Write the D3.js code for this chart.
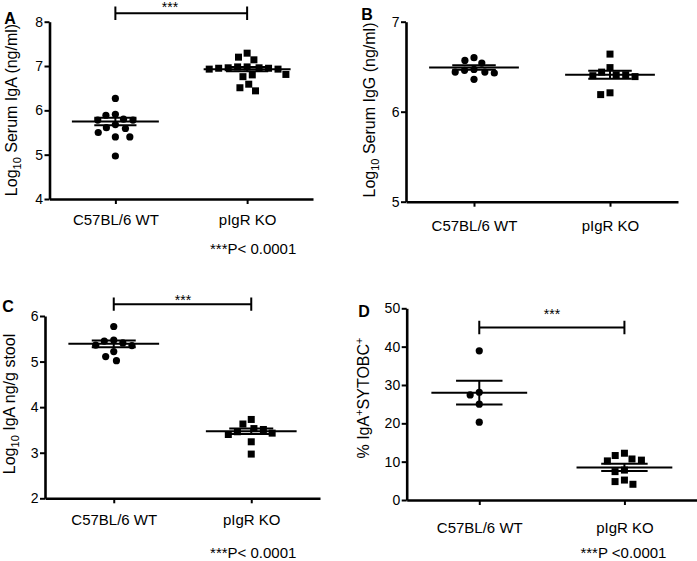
<!DOCTYPE html>
<html>
<head>
<meta charset="utf-8">
<script src="https://cdn.jsdelivr.net/npm/d3@7"></script>
<style>
  body { margin: 0; background: #fff; }
  svg { display: block; font-family: "Liberation Sans", Arial, sans-serif; }
  .axis path, .axis line { stroke: #000; }
  .axis path { stroke-width: 2.6; }
  .axis line { stroke-width: 2; }
  .axis text { fill: #000; }
</style>
</head>
<body>
<svg id="chart" width="697" height="561"></svg>
<script>
const categories = ["C57BL/6 WT", "pIgR KO"];

// A: serum IgA (log10 ng/ml)
const serumIgAWT = [6.27, 5.89, 5.91, 5.78, 5.68, 5.78, 5.80, 5.59, 5.61, 5.40, 5.40, 5.50, 4.97];
const serumIgAKO = [7.29, 7.14, 7.20, 6.95, 6.93, 6.98, 6.96, 6.96, 6.98, 6.93, 6.95, 6.80, 6.76, 6.81, 6.59, 6.51, 6.44];
const serumIgAMean = [5.75, 6.93];
const serumIgASem = [0.085, 0.05];
const serumIgATicks = [4, 5, 6, 7, 8];

// B: serum IgG (log10 ng/ml)
const serumIgGWT = [6.46, 6.44, 6.57, 6.36, 6.54, 6.43, 6.60, 6.44, 6.47];
const serumIgGKO = [6.64, 6.49, 6.41, 6.40, 6.39, 6.41, 6.44, 6.19, 6.21];
const serumIgGMean = [6.49, 6.41];
const serumIgGSem = [0.025, 0.045];
const serumIgGTicks = [5, 6, 7];

// C: stool IgA (log10 ng/g)
const stoolIgAWT = [5.77, 5.45, 5.47, 5.36, 5.35, 5.41, 5.22, 5.02, 5.11];
const stoolIgAKO = [3.63, 3.51, 3.53, 3.73, 3.46, 3.40, 3.43, 3.24, 2.97];
const stoolIgAMean = [5.39, 3.47];
const stoolIgASem = [0.075, 0.06];
const stoolIgATicks = [2, 3, 4, 5, 6];

// D: % IgA+ SYTOBC+
const sytoWT = [38.9, 27.4, 28.1, 25.0, 20.3];
const sytoKO = [12.2, 10.4, 10.7, 11.6, 10.2, 7.8, 7.4, 5.2, 4.8, 4.1];
const sytoMean = [28.0, 8.5];
const sytoSem = [3.1, 0.95];
const sytoTicks = [0, 10, 20, 30, 40, 50];

const pLabels = ["***P< 0.0001", "***P< 0.0001", "***P <0.0001"];

const svg = d3.select("#chart");
svg.append("rect").attr("width", 697).attr("height", 561).attr("fill", "#fff");

// greedy beeswarm: offsets so markers do not overlap
function swarm(ys, d) {
    const order = ys.map((y, i) => i).sort((a, b) => ys[a] - ys[b]);
    const placed = [];
    const xs = new Array(ys.length).fill(0);
    order.forEach(i => {
        const y = ys[i];
        const cands = [0];
        placed.forEach(p => {
            const dy = y - p.y;
            if (Math.abs(dy) < d) {
                const dx = Math.sqrt(d * d - dy * dy);
                cands.push(p.x + dx, p.x - dx);
            }
        });
        cands.sort((a, b) => Math.abs(a) - Math.abs(b) || a - b);
        const x = cands.find(c => placed.every(p => (c - p.x) ** 2 + (y - p.y) ** 2 >= d * d - 1e-6));
        xs[i] = x;
        placed.push({ x, y });
    });
    return xs;
}

function drawPanel(cfg) {
    const g = svg.append("g");
    const x = d3.scalePoint().domain(categories).range([cfg.x0, cfg.x1]).padding(0.5);
    const y = d3.scaleLinear().domain(cfg.domain).range([cfg.yBot, cfg.yTop]);
    const step = x.step();

    g.append("g").attr("class", "axis")
        .attr("transform", `translate(${cfg.x0},0)`)
        .call(d3.axisLeft(y).tickValues(cfg.ticks).tickFormat(d3.format("d"))
            .tickSize(5).tickSizeOuter(0).tickPadding(1.5))
        .call(a => a.selectAll("text").style("font-size", "14px"));

    g.append("g").attr("class", "axis")
        .attr("transform", `translate(0,${cfg.yBot})`)
        .call(d3.axisBottom(x).tickSize(5).tickSizeOuter(0).tickPadding(cfg.catPad))
        .call(a => a.selectAll("text").style("font-size", "15px"));

    // points
    cfg.groups.forEach((vals, gi) => {
        const cx = x(categories[gi]);
        const ys = vals.map(v => y(v));
        const offs = swarm(ys, 9.5);
        if (gi === 0) {
            g.selectAll(null).data(vals).enter().append("circle")
                .attr("cx", (d, i) => cx + offs[i])
                .attr("cy", d => y(d))
                .attr("r", 3.6)
                .attr("fill", "#000");
        } else {
            g.selectAll(null).data(vals).enter().append("rect")
                .attr("x", (d, i) => cx + offs[i] - 3.5)
                .attr("y", d => y(d) - 3.5)
                .attr("width", 7).attr("height", 7)
                .attr("fill", "#000");
        }

        // mean +/- SEM
        const m = cfg.mean[gi], s = cfg.sem[gi];
        const mw = step * 0.33, sw = step * 0.16;
        const lines = [
            [cx - mw, y(m), cx + mw, y(m)],
            [cx - sw, y(m + s), cx + sw, y(m + s)],
            [cx - sw, y(m - s), cx + sw, y(m - s)],
            [cx, y(m + s), cx, y(m - s)]
        ];
        g.selectAll(null).data(lines).enter().append("line")
            .attr("x1", d => d[0]).attr("y1", d => d[1])
            .attr("x2", d => d[2]).attr("y2", d => d[3])
            .attr("stroke", "#000").attr("stroke-width", 2);
    });

    // significance bar
    if (cfg.sig) {
        const sy = y(cfg.sig.v);
        const xa = x(categories[0]), xb = x(categories[1]);
        const path = `M${xa},${sy - 6.7}V${sy + 6.7}M${xa},${sy}H${xb}M${xb},${sy - 6.7}V${sy + 6.7}`;
        g.append("path").attr("d", path).attr("fill", "none")
            .attr("stroke", "#000").attr("stroke-width", 2);
        g.append("text").attr("x", cfg.sig.tx).attr("y", cfg.sig.ty)
            .attr("text-anchor", "middle").style("font-size", "14px").text("***");
    }

    if (cfg.pText) {
        g.append("text")
            .attr("x", x(categories[1]) + cfg.pDx)
            .attr("y", cfg.pY)
            .attr("text-anchor", "middle").style("font-size", "15px")
            .text(cfg.pText);
    }

    // panel letter
    g.append("text").attr("x", cfg.letter[1]).attr("y", cfg.letter[2])
        .attr("text-anchor", "middle")
        .style("font-size", "16px").style("font-weight", "bold").text(cfg.letter[0]);

    // y title
    const t = g.append("text")
        .attr("transform", `translate(${cfg.title.x},${cfg.title.y}) rotate(-90)`)
        .attr("text-anchor", "middle").attr("dy", "0.35em")
        .style("font-size", "16px");
    cfg.title.parts.forEach(p => {
        const ts = t.append("tspan").text(p.t);
        if (p.sub) ts.style("font-size", "11px").attr("dy", 4);
        if (p.sup) ts.style("font-size", "11px").attr("dy", -6);
        if (p.back) ts.attr("dy", p.back);
    });
}

drawPanel({
    x0: 49.5, x1: 313, yTop: 21.7, yBot: 199, domain: [4, 8], ticks: serumIgATicks,
    catPad: 10, groups: [serumIgAWT, serumIgAKO], mean: serumIgAMean, sem: serumIgASem,
    sig: { v: 8.19, tx: 170, ty: 12 },
    pText: pLabels[0], pDx: 6, pY: 254,
    letter: ["A", 10, 24],
    title: { x: 11, y: 110, parts: [{ t: "Log" }, { t: "10", sub: true }, { t: " Serum IgA (ng/ml)", back: -4 }] }
});

drawPanel({
    x0: 406, x1: 678, yTop: 21.7, yBot: 201.7, domain: [5, 7], ticks: serumIgGTicks,
    catPad: 14, groups: [serumIgGWT, serumIgGKO], mean: serumIgGMean, sem: serumIgGSem,
    letter: ["B", 367, 20],
    title: { x: 369, y: 110, parts: [{ t: "Log" }, { t: "10", sub: true }, { t: " Serum IgG (ng/ml)", back: -4 }] }
});

drawPanel({
    x0: 45, x1: 320, yTop: 316, yBot: 498.3, domain: [2, 6], ticks: stoolIgATicks,
    catPad: 11.5, groups: [stoolIgAWT, stoolIgAKO], mean: stoolIgAMean, sem: stoolIgASem,
    sig: { v: 6.26, tx: 183, ty: 305 },
    pText: pLabels[1], pDx: 2, pY: 558,
    letter: ["C", 8, 312],
    title: { x: 9, y: 404, parts: [{ t: "Log" }, { t: "10", sub: true }, { t: " IgA ng/g stool", back: -4 }] }
});

drawPanel({
    x0: 406.7, x1: 697, yTop: 308.3, yBot: 500, domain: [0, 50], ticks: sytoTicks,
    catPad: 17, groups: [sytoWT, sytoKO], mean: sytoMean, sem: sytoSem,
    sig: { v: 45, tx: 552, ty: 319 },
    pText: pLabels[2], pDx: -1, pY: 558,
    letter: ["D", 364, 317],
    title: { x: 363, y: 398, parts: [{ t: "% IgA" }, { t: "+", sup: true }, { t: "SYTOBC", back: 6 }, { t: "+", sup: true }] }
});
</script>
</body>
</html>
